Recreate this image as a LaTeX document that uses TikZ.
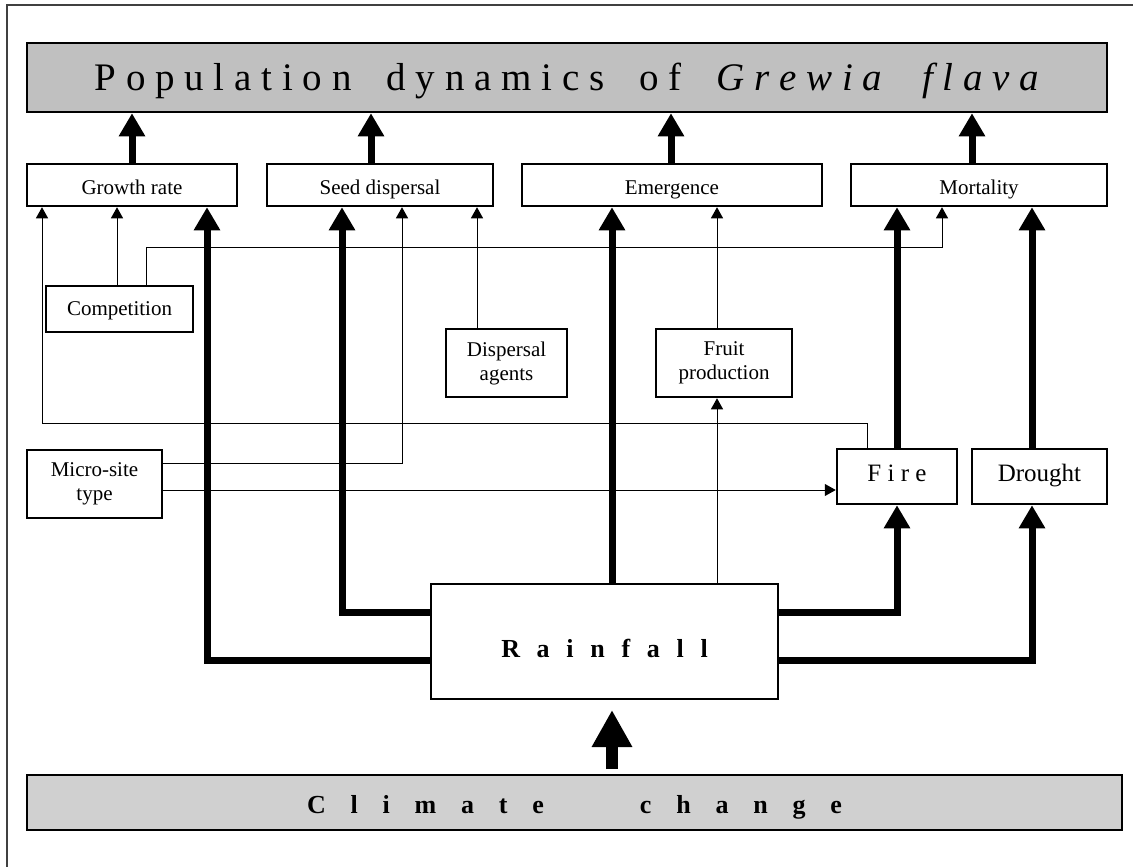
\documentclass[tikz,border=0pt]{standalone}
\usepackage{fontspec}
\setmainfont{Liberation Serif}
\usetikzlibrary{arrows.meta}
\definecolor{titlegray}{HTML}{C0C0C0}
\definecolor{climgray}{HTML}{D0D0D0}
\newcommand{\rg}{\hspace{16.7pt}}
\newcommand{\cg}{\hspace{24.8pt}}
\begin{document}
\begin{tikzpicture}[x=1pt,y=-1pt,
  box/.style={draw, line width=2.5pt, inner sep=0pt, align=center, fill=white},
  lab/.style={font=\fontsize{21}{24}\selectfont, text height=18pt, text depth=0pt},
  lab2/.style={font=\fontsize{21}{24}\selectfont},
  conn/.style={line width=1pt, -{Triangle[width=12pt,length=11pt]}},
  fat/.style={line width=7pt, line join=miter, -{Triangle[width=25pt,length=23pt]}},
  huge/.style={line width=12pt, -{Triangle[width=38pt,length=37pt]}}
]
\useasboundingbox (0,0) rectangle (1133,867);
\draw[line width=1.2pt, black!75] (7,867) -- (7,5) -- (1133,5);

% nodes
\node[box, fill=titlegray, minimum width=1080pt, minimum height=69pt,
      font=\fontsize{39}{44}\selectfont, text height=25pt, text depth=0pt] (title) at (567,77.5)
  {P o p u l a t i o n\hspace{35pt}d y n a m i c s\hspace{35pt}o f\hspace{35pt}\textit{G r e w i a\hspace{40pt}f l a v a}};
\node[box, lab, minimum width=210pt, minimum height=42pt] (growth) at (132,185) {Growth rate};
\node[box, lab, minimum width=226pt, minimum height=42pt] (seed) at (380,185) {Seed dispersal};
\node[box, lab, minimum width=300pt, minimum height=42pt] (emerg) at (672,185) {Emergence};
\node[box, lab, minimum width=256pt, minimum height=42pt] (mort) at (979,185) {Mortality};
\node[box, lab, text height=12pt, minimum width=147pt, minimum height=46pt] (comp) at (119.5,309) {Competition};
\node[box, lab2, minimum width=121pt, minimum height=68pt] (disp) at (506.5,363) {Dispersal\\agents};
\node[box, lab2, minimum width=136pt, minimum height=68pt] (fruit) at (724,363) {Fruit\\production};
\node[box, lab2, minimum width=135pt, minimum height=68pt] (micro) at (94.5,484) {Micro-site\\type};
\node[box, minimum width=120pt, minimum height=55pt, font=\fontsize{25}{28}\selectfont, text height=10.5pt, text depth=0pt] (fire) at (897,476.5) {F i r e};
\node[box, minimum width=135pt, minimum height=55pt, font=\fontsize{25}{28}\selectfont, text height=10.5pt, text depth=0pt] (drought) at (1039.5,476.5) {Drought};
\node[box, minimum width=347pt, minimum height=115pt, font=\fontsize{26}{30}\selectfont\bfseries, text height=31pt, text depth=0pt] (rain) at (604.5,641.5)
  {R\rg a\rg i\rg n\rg f\rg a\rg l\rg l};
\node[box, fill=climgray, minimum width=1095pt, minimum height=55pt, font=\fontsize{26}{30}\selectfont\bfseries, text height=21pt, text depth=0pt] (climate) at (574.5,802.5)
  {C\cg l\cg i\cg m\cg a\cg t\cg e\hspace{96pt}c\cg h\cg a\cg n\cg g\cg e};

\coordinate (ccTop) at (612,769);
\coordinate (rainBot) at (612,710);

% thin connectors
\draw[conn] (117,0 |- comp.north) -- (117,0 |- growth.south);
\draw[conn] (146,0 |- comp.north) |- (942,247) -- (942,0 |- mort.south);
\draw[conn] (477,0 |- disp.north) -- (477,0 |- seed.south);
\draw[conn] (717,0 |- fruit.north) -- (717,0 |- emerg.south);
\draw[conn] (717,0 |- rain.north) -- (717,0 |- fruit.south);
\draw[conn] (867,0 |- fire.north) |- (42,423) -- (42,0 |- growth.south);
\draw[conn] (micro.east |- 0,463) -| (402,0 |- seed.south);
\draw[conn] (micro.east |- 0,490) -- (fire.west |- 0,490);

% thick connectors
\draw[fat] (growth.north) -- (title.south -| growth.north);
\draw[fat] (371,0 |- seed.north) -- (371,0 |- title.south);
\draw[fat] (671,0 |- emerg.north) -- (671,0 |- title.south);
\draw[fat] (972,0 |- mort.north) -- (972,0 |- title.south);
\draw[fat] (rain.west |- 0,660) -| (207,0 |- growth.south);
\draw[fat] (rain.west |- 0,612) -| (342,0 |- seed.south);
\draw[fat] (612,0 |- rain.north) -- (612,0 |- emerg.south);
\draw[fat] (rain.east |- 0,612) -| (fire.south);
\draw[fat] (rain.east |- 0,660) -| (1032,0 |- drought.south);
\draw[fat] (fire.north) -- (fire.north |- mort.south);
\draw[fat] (1032,0 |- drought.north) -- (1032,0 |- mort.south);
\draw[huge] (ccTop) -- (rainBot);
\end{tikzpicture}
\end{document}
